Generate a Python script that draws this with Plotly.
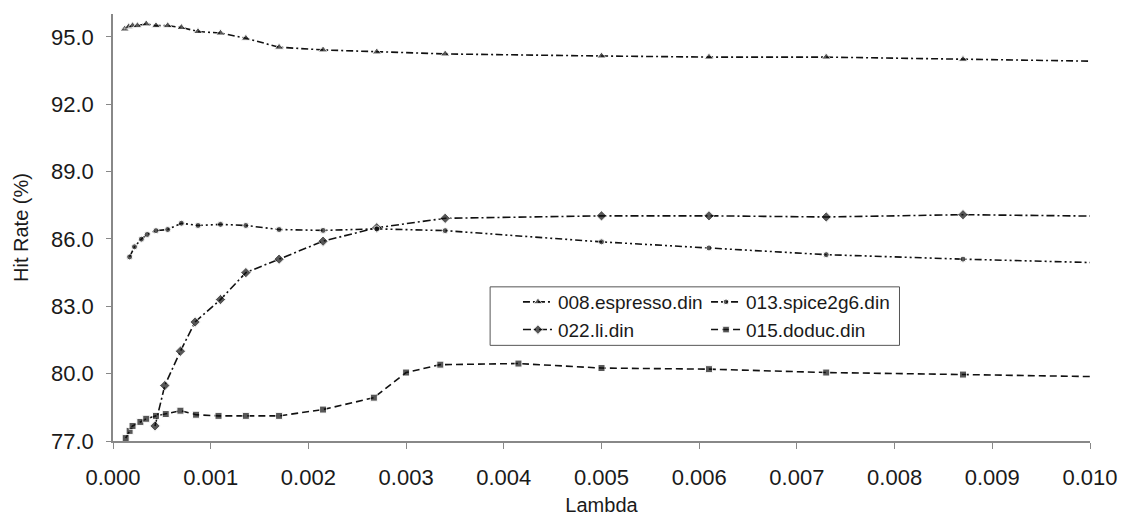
import plotly.graph_objects as go

# ---- data ----
espresso_x = [0.00012, 0.00016, 0.00020, 0.00025, 0.00034, 0.00044, 0.00056, 0.00070, 0.00087,
              0.00110, 0.00136, 0.00170, 0.00215, 0.00270, 0.00340, 0.00500, 0.00610, 0.00730,
              0.00870, 0.01000]
espresso_y = [95.35, 95.45, 95.50, 95.50, 95.58, 95.50, 95.50, 95.42, 95.24,
              95.17, 94.94, 94.54, 94.42, 94.33, 94.24, 94.15, 94.10, 94.10,
              94.00, 93.92]

spice_x = [0.00017, 0.00022, 0.00029, 0.00035, 0.00044, 0.00056, 0.00070, 0.00087, 0.00110,
           0.00136, 0.00170, 0.00215, 0.00270, 0.00340, 0.00500, 0.00610, 0.00730, 0.00870,
           0.01000]
spice_y = [85.20, 85.65, 85.99, 86.20, 86.37, 86.42, 86.70, 86.60, 86.65,
           86.60, 86.42, 86.38, 86.45, 86.37, 85.87, 85.60, 85.30, 85.10,
           84.95]

li_x = [0.00043, 0.00053, 0.00069, 0.00084, 0.00110, 0.00136, 0.00170, 0.00215, 0.00270,
        0.00340, 0.00500, 0.00610, 0.00730, 0.00870, 0.01000]
li_y = [77.67, 79.47, 81.00, 82.30, 83.30, 84.50, 85.10, 85.90, 86.50,
        86.92, 87.03, 87.03, 86.98, 87.08, 87.02]

doduc_x = [0.00013, 0.00017, 0.00020, 0.00028, 0.00034, 0.00044, 0.00054, 0.00069, 0.00085,
           0.00108, 0.00136, 0.00170, 0.00215, 0.00267, 0.00300, 0.00335, 0.00415, 0.00500,
           0.00610, 0.00730, 0.00870, 0.01000]
doduc_y = [77.13, 77.45, 77.67, 77.85, 77.99, 78.12, 78.20, 78.35, 78.17,
           78.12, 78.12, 78.12, 78.40, 78.93, 80.05, 80.40, 80.45, 80.25,
           80.20, 80.05, 79.96, 79.87]

names = ["008.espresso.din", "013.spice2g6.din", "022.li.din", "015.doduc.din"]
y_ticks = [77.0, 80.0, 83.0, 86.0, 89.0, 92.0, 95.0]
x_ticks = [0.000, 0.001, 0.002, 0.003, 0.004, 0.005, 0.006, 0.007, 0.008, 0.009, 0.010]

FONT = "Arial, Liberation Sans, sans-serif"

def sizes(n, s):
    return [s] * (n - 1) + [0]

fig = go.Figure()
fig.add_trace(go.Scatter(x=espresso_x, y=espresso_y, name=names[0], mode="lines+markers",
                         line=dict(color="#111", width=1.6, dash="7px,3px,2px,3px"),
                         marker=dict(symbol="triangle-up", size=sizes(len(espresso_x), 8), color="#111"),
                         legend="legend"))
fig.add_trace(go.Scatter(x=li_x, y=li_y, name=names[2], mode="lines+markers",
                         line=dict(color="#111", width=1.6, dash="8px,3px,2px,3px"),
                         marker=dict(symbol="diamond", size=sizes(len(li_x), 8), color="#111"),
                         legend="legend"))
fig.add_trace(go.Scatter(x=spice_x, y=spice_y, name=names[1], mode="lines+markers",
                         line=dict(color="#111", width=1.6, dash="7px,3px,2px,3px,2px,3px"),
                         marker=dict(symbol="circle", size=sizes(len(spice_x), 6), color="#111"),
                         legend="legend2"))
fig.add_trace(go.Scatter(x=doduc_x, y=doduc_y, name=names[3], mode="lines+markers",
                         line=dict(color="#111", width=1.6, dash="7px,4px"),
                         marker=dict(symbol="square", size=sizes(len(doduc_x), 7), color="#111"),
                         legend="legend2"))

fig.update_layout(
    width=1126, height=516,
    margin=dict(l=113, r=36, t=14, b=75),
    paper_bgcolor="white", plot_bgcolor="white",
    font=dict(family=FONT, size=20, color="#1a1a1a"),
    showlegend=True,
    legend=dict(x=0.4145, y=0.370, xanchor="left", yanchor="top", bgcolor="rgba(0,0,0,0)",
                font=dict(size=19), tracegroupgap=0),
    legend2=dict(x=0.607, y=0.370, xanchor="left", yanchor="top", bgcolor="rgba(0,0,0,0)",
                 font=dict(size=19), tracegroupgap=0),
    shapes=[dict(type="rect", xref="paper", yref="paper", x0=0.386, x1=0.805, y0=0.224, y1=0.361,
                 line=dict(color="#555", width=1), fillcolor="white", layer="below")],
)
fig.update_xaxes(range=[0, 0.010], tickvals=x_ticks, tickformat=".3f", automargin=False,
                 showline=True, linecolor="#888", linewidth=1.5, ticks="outside", ticklen=6,
                 tickcolor="#888", showgrid=False, zeroline=False, ticklabelstandoff=10,
                 tickfont=dict(size=22),
                 title=dict(text="Lambda", font=dict(size=20), standoff=9))
fig.update_yaxes(range=[77, 96.02], tickvals=y_ticks, tickformat=".1f", automargin=False,
                 showline=True, linecolor="#888", linewidth=1.5, ticks="outside", ticklen=5,
                 tickcolor="#888", showgrid=False, zeroline=False, ticklabelstandoff=8,
                 tickfont=dict(size=22),
                 title=dict(text="Hit Rate (%)", font=dict(size=20), standoff=17))

fig.write_html("out.html", config={"displayModeBar": False},
               post_script="document.body.style.margin='0px';")
